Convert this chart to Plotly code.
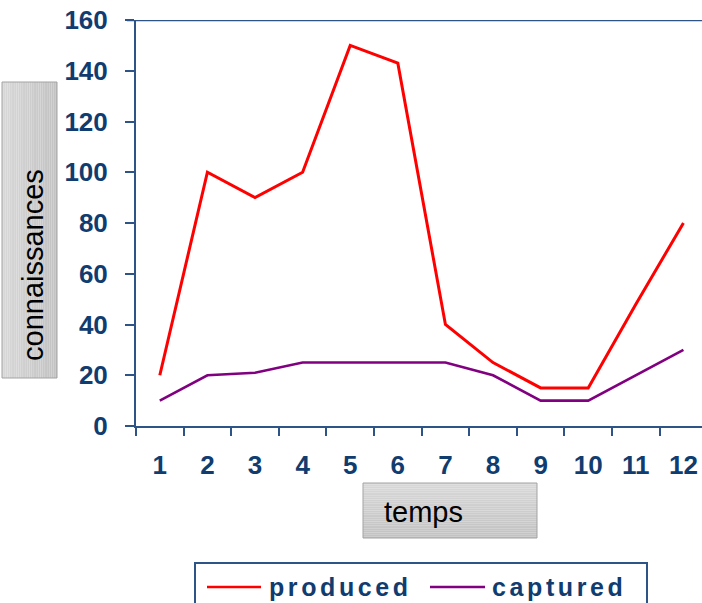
import plotly.graph_objects as go

# --- data -------------------------------------------------------------
periods = ["1", "2", "3", "4", "5", "6", "7", "8", "9", "10", "11", "12"]
produced = [20, 100, 90, 100, 150, 143, 40, 25, 15, 15, 48, 80]
captured = [10, 20, 21, 25, 25, 25, 25, 20, 10, 10, 20, 30]
y_ticks = [0, 20, 40, 60, 80, 100, 120, 140, 160]

# --- geometry helpers (pixel -> paper coordinates) --------------------
W, H = 702, 603
L, T, B = 136, 20, 177
PW, PH = W - L, H - T - B


def px(x):
    return (x - L) / PW


def py(y):
    return (H - B - y) / PH


NAVY = "#103c70"
AXIS = "#2e5386"
FONT = "Liberation Sans, Arial, sans-serif"

fig = go.Figure()
fig.add_trace(go.Scatter(x=periods, y=produced, mode="lines", name="produced",
                         line=dict(color="#ff0000", width=3)))
fig.add_trace(go.Scatter(x=periods, y=captured, mode="lines", name="captured",
                         line=dict(color="#800080", width=2.6)))

shapes = []


def grey_box(x0, y0, x1, y1, horizontal):
    """Grey label box with a soft light-to-dark shading."""
    n = 30
    c0, c1 = 0xd8, 0xc2
    for i in range(n):
        v = round(c0 + (c1 - c0) * i / (n - 1))
        col = f"rgb({v},{v},{v})"
        if horizontal:
            a, b = x0 + (x1 - x0) * i / n, x0 + (x1 - x0) * (i + 1) / n
            shapes.append(dict(type="rect", xref="paper", yref="paper",
                               x0=px(a), x1=px(b), y0=py(y1), y1=py(y0),
                               line=dict(width=0), fillcolor=col, layer="below"))
        else:
            a, b = y0 + (y1 - y0) * i / n, y0 + (y1 - y0) * (i + 1) / n
            shapes.append(dict(type="rect", xref="paper", yref="paper",
                               x0=px(x0), x1=px(x1), y0=py(b), y1=py(a),
                               line=dict(width=0), fillcolor=col, layer="below"))
    shapes.append(dict(type="rect", xref="paper", yref="paper",
                       x0=px(x0), x1=px(x1), y0=py(y1), y1=py(y0),
                       line=dict(color="#a3a3a3", width=1), fillcolor="rgba(0,0,0,0)",
                       layer="below"))


grey_box(2, 82, 57, 378, horizontal=True)
grey_box(363, 483, 537, 538, horizontal=False)

# top frame line at the 160 level
shapes.append(dict(type="line", xref="paper", yref="y", x0=px(127), x1=1,
                   y0=160, y1=160, line=dict(color=AXIS, width=2.5)))

# legend frame and line samples
shapes.append(dict(type="rect", xref="paper", yref="paper",
                   x0=px(195), x1=px(647), y0=py(620), y1=py(563),
                   line=dict(color=AXIS, width=2), fillcolor="white"))
shapes.append(dict(type="line", xref="paper", yref="paper",
                   x0=px(207), x1=px(261), y0=py(587), y1=py(587),
                   line=dict(color="#ff0000", width=2.5)))
shapes.append(dict(type="line", xref="paper", yref="paper",
                   x0=px(430), x1=px(485), y0=py(587), y1=py(587),
                   line=dict(color="#800080", width=2.5)))

spaced = '<span style="letter-spacing:3.6px">{}</span>'
annotations = [
    dict(text="connaissances", textangle=-90, x=px(33), y=py(265),
         xref="paper", yref="paper", showarrow=False, xanchor="center", yanchor="middle",
         font=dict(family=FONT, size=29, color="black")),
    dict(text="temps", x=px(382), y=py(512), xref="paper", yref="paper",
         showarrow=False, xanchor="left", yanchor="middle",
         font=dict(family=FONT, size=29, color="black")),
    dict(text="<b>" + spaced.format("produced") + "</b>", x=px(267), y=py(587),
         xref="paper", yref="paper", showarrow=False, xanchor="left", yanchor="middle",
         font=dict(family=FONT, size=25, color=NAVY)),
    dict(text="<b>" + spaced.format("captured") + "</b>", x=px(490), y=py(587),
         xref="paper", yref="paper", showarrow=False, xanchor="left", yanchor="middle",
         font=dict(family=FONT, size=25, color=NAVY)),
]

fig.update_layout(
    width=W, height=H,
    margin=dict(l=L, r=0, t=T, b=B, pad=0),
    paper_bgcolor="white", plot_bgcolor="white",
    showlegend=False,
    shapes=shapes,
    annotations=annotations,
    xaxis=dict(
        type="category", range=[-0.5, 11.39],
        tickson="boundaries", ticks="outside", ticklen=8, tickwidth=2, tickcolor=AXIS,
        showline=True, linecolor=AXIS, linewidth=2, showgrid=False, zeroline=False,
        tickfont=dict(family=FONT, size=26, color=NAVY, weight="bold"),
        ticklabelstandoff=15,
    ),
    yaxis=dict(
        range=[0, 160], tickvals=y_ticks, ticks="outside", ticklen=9, tickwidth=2,
        tickcolor=AXIS, showline=True, linecolor=AXIS, linewidth=2, showgrid=False,
        zeroline=False,
        tickfont=dict(family=FONT, size=26, color=NAVY, weight="bold"),
        ticklabelstandoff=12,
    ),
)

fig.write_html("out.html")
